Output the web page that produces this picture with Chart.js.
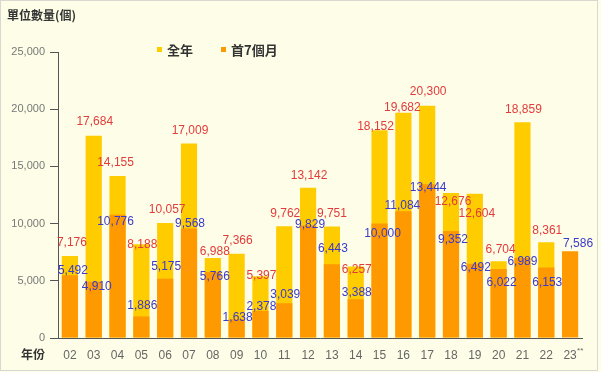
<!DOCTYPE html>
<html>
<head>
<meta charset="utf-8">
<script src="https://cdn.jsdelivr.net/npm/chart.js@4.4.0/dist/chart.umd.min.js"></script>
<style>
  html, body { margin: 0; padding: 0; background: #FEFEE8; }
  #wrap { position: relative; width: 601px; height: 372px; }
  canvas { display: block; }
</style>
</head>
<body>
<div id="wrap"><canvas id="c" width="601" height="372"></canvas></div>
<script>
// ---- data ----
const years = ['02','03','04','05','06','07','08','09','10','11','12','13','14','15','16','17','18','19','20','21','22','23**'];
const fullYear = [7176,17684,14155,8188,10057,17009,6988,7366,5397,9762,13142,9751,6257,18152,19682,20300,12676,12604,6704,18859,8361,null];
const first7Months = [5492,4910,10776,1886,5175,9568,5766,1638,2378,3039,9829,6443,3388,10000,11084,13444,9352,6492,6022,6989,6153,7586];
const yTicks = [0,5000,10000,15000,20000,25000];
const seriesNames = ['全年','首7個月'];
const axisTitle = '單位數量(個)';
const xTitle = '年份';

// label nudges (relative to bar top, in px) to mimic reference placement
const fullShiftY = [-13,-14,-13,0,-13,-13,-6,-13,-1,-13,-12,-13,3,-4,-5,-14,9,20,-12,-13,-12,0];
const partShiftY = [-4,5,7,-11,-12,-5,5,-2,-4,-9,-1,-16,-7,10,-6,3,9,4,14,4,15,-8];
const fullShiftX = [2,1,-2,1,2,1,2,1,1,1,1,0,1,-4,-1,1,2,2,2,1,1,0];
const partShiftX = [3,3,-2,1,1,1,2,1,1,1,2,1,1,3,-1,1,2,1,3,0,1,8];

const fmt = v => v.toLocaleString('en-US');

const bgPlugin = {
  id: 'bg',
  beforeDraw(chart) {
    const ctx = chart.ctx;
    ctx.save();
    ctx.fillStyle = '#FEFEE8';
    ctx.fillRect(0, 0, chart.width, chart.height);
    ctx.strokeStyle = '#D8D8D0';
    ctx.lineWidth = 1;
    ctx.strokeRect(0.5, 0.5, chart.width - 4, chart.height - 2);
    ctx.restore();
  }
};

const labelPlugin = {
  id: 'vlabels',
  afterDatasetsDraw(chart) {
    const ctx = chart.ctx;
    ctx.save();
    ctx.font = '12px "Liberation Sans", Arial, sans-serif';
    ctx.textAlign = 'center';
    ctx.textBaseline = 'middle';
    const cfg = [
      {ds: 0, color: '#E23B3B', sx: fullShiftX, sy: fullShiftY},
      {ds: 1, color: '#3A3ACB', sx: partShiftX, sy: partShiftY}
    ];
    cfg.forEach(c => {
      const meta = chart.getDatasetMeta(c.ds);
      const data = chart.data.datasets[c.ds].data;
      meta.data.forEach((el, i) => {
        if (data[i] == null) return;
        ctx.fillStyle = c.color;
        ctx.fillText(fmt(data[i]), el.x + c.sx[i], el.y + c.sy[i]);
      });
    });
    ctx.restore();
  },
  afterDraw(chart) {
    const ctx = chart.ctx;
    ctx.save();
    // axis title
    ctx.fillStyle = '#333';
    ctx.font = 'bold 12px "Noto Sans CJK TC", sans-serif';
    ctx.textAlign = 'left';
    ctx.textBaseline = 'middle';
    ctx.fillText(axisTitle, 7, 15);
    // x title
    ctx.font = 'bold 12px "Noto Sans CJK TC", sans-serif';
    ctx.textAlign = 'center';
    ctx.fillText(xTitle, 33, 354);
    // small superscript marks on tick labels
    const xs = chart.scales.x;
    ctx.font = '8px "Liberation Sans", Arial, sans-serif';
    ctx.fillStyle = '#666';
    ctx.textAlign = 'left';
    years.forEach((y, i) => {
      if (y.endsWith('**')) {
        const x = xs.getPixelForTick(i);
        ctx.fillText('**', x + 7, 351);
      }
    });
    // legend
    const ds = chart.data.datasets;
    const items = [{x: 157, i: 0}, {x: 221, i: 1}];
    ctx.font = 'bold 13px "Noto Sans CJK TC", sans-serif';
    ctx.textAlign = 'left';
    items.forEach(it => {
      ctx.fillStyle = ds[it.i].backgroundColor;
      ctx.fillRect(it.x, 47, 5, 5);
      ctx.fillStyle = '#333';
      ctx.fillText(ds[it.i].label, it.x + 10, 50);
    });
    ctx.restore();
  }
};

new Chart(document.getElementById('c'), {
  type: 'bar',
  data: {
    labels: years,
    datasets: [
      { label: seriesNames[0], data: fullYear, backgroundColor: '#FFCC00', order: 2,
        barPercentage: 0.68, categoryPercentage: 1.0 },
      { label: seriesNames[1], data: first7Months, backgroundColor: '#FF9900', order: 1,
        barPercentage: 0.68, categoryPercentage: 1.0 }
    ]
  },
  options: {
    responsive: false,
    animation: false,
    devicePixelRatio: 1,
    layout: { padding: { left: 0, right: 19, top: 52, bottom: 0 } },
    plugins: { legend: { display: false }, tooltip: { enabled: false } },
    scales: {
      x: {
        stacked: true,
        grid: { display: false, drawTicks: false },
        border: { display: true, color: '#555', width: 1 },
        ticks: { color: '#666', font: { size: 12, family: '"Liberation Sans", Arial, sans-serif' }, padding: 10, maxRotation: 0, autoSkip: false,
                 callback(v, i) { return years[i].replace('**', ''); } },
        afterFit(s) { s.height = 34; }
      },
      y: {
        stacked: false,
        min: 0, max: 25000,
        afterBuildTicks(s) { s.ticks = yTicks.map(v => ({ value: v })); },
        grid: { drawOnChartArea: false, drawTicks: true, tickLength: 8, color: '#555' },
        border: { display: true, color: '#555', width: 1 },
        ticks: { color: '#777', font: { size: 11, family: '"Liberation Sans", Arial, sans-serif' }, padding: 5,
                 callback: v => fmt(v) },
        afterFit(s) { s.width = 58; }
      }
    }
  },
  plugins: [bgPlugin, labelPlugin]
});
</script>
</body>
</html>
